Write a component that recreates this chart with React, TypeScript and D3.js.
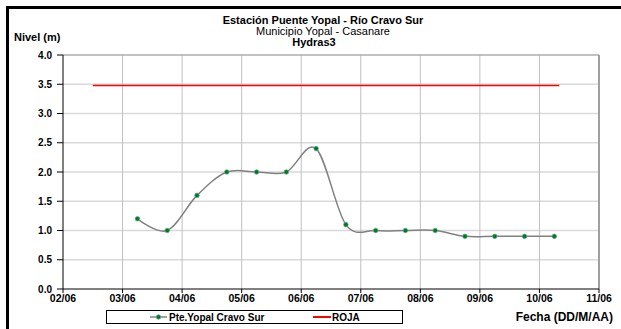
import React from 'react';
import { scaleUtc, scaleLinear, line, curveCatmullRom, utcFormat, utcDay } from 'd3';

// hydrometric readings every 12 h
const fechas = [
    '2011-06-03T06:00Z', '2011-06-03T18:00Z', '2011-06-04T06:00Z', '2011-06-04T18:00Z',
    '2011-06-05T06:00Z', '2011-06-05T18:00Z', '2011-06-06T06:00Z', '2011-06-06T18:00Z',
    '2011-06-07T06:00Z', '2011-06-07T18:00Z', '2011-06-08T06:00Z', '2011-06-08T18:00Z',
    '2011-06-09T06:00Z', '2011-06-09T18:00Z', '2011-06-10T06:00Z'
];
const niveles = [1.2, 1.0, 1.6, 2.0, 2.0, 2.0, 2.4, 1.1, 1.0, 1.0, 1.0, 0.9, 0.9, 0.9, 0.9];

// alert threshold
const rojaFechas = ['2011-06-02T12:00Z', '2011-06-10T08:00Z'];
const rojaNivel = 3.48;

const xDominio = ['2011-06-02T00:00Z', '2011-06-11T00:00Z'];
const yTicks = [0, 0.5, 1, 1.5, 2, 2.5, 3, 3.5, 4];

const FONT = '"Liberation Sans", Arial, sans-serif';

const App = () => {
    let margin = { top: 55, right: 22, bottom: 40, left: 63 };
    let width = 621;
    let height = 329;
    let plotRight = width - margin.right;
    let plotBottom = height - margin.bottom;

    let x = scaleUtc().domain(xDominio.map(d => new Date(d))).range([margin.left, plotRight]);
    let y = scaleLinear().domain([0, 4]).range([plotBottom, margin.top]);
    let dias = utcDay.range(new Date(xDominio[0]), new Date(new Date(xDominio[1]).getTime() + 1));
    let fmt = utcFormat('%d/%m');

    let puntos = fechas.map((f, i) => ({ t: new Date(f), v: niveles[i] }));
    let linefunc = line<{ t: Date, v: number }>().x(d => x(d.t)).y(d => y(d.v)).curve(curveCatmullRom.alpha(0));

    return (
        <div style={{ position: 'absolute', left: 0, top: 0 }}>
            <svg width={width} height={height} style={{ display: 'block', fontFamily: FONT }}>
                <rect x={0} y={0} width={width} height={height} fill="white" />
                <rect x={7.5} y={7.5} width={width + 20} height={height + 20} fill="none" stroke="black" strokeWidth={3} />

                <text x={323} y={24} textAnchor="middle" fontSize={11} fontWeight="bold">Estación Puente Yopal  - Río Cravo Sur</text>
                <text x={323} y={35} textAnchor="middle" fontSize={11}>Municipio Yopal - Casanare</text>
                <text x={314} y={46} textAnchor="middle" fontSize={11} fontWeight="bold">Hydras3</text>
                <text x={14} y={41} fontSize={11} fontWeight="bold">Nivel (m)</text>

                {/* grid */}
                {yTicks.slice(1).map((t, i) =>
                    <line key={'h' + i} x1={margin.left} x2={plotRight} y1={y(t)} y2={y(t)} stroke="#d9d9d9" strokeWidth={1.5} />
                )}
                {dias.slice(1, -1).map((d, i) =>
                    <line key={'v' + i} x1={x(d)} x2={x(d)} y1={margin.top} y2={plotBottom} stroke="#c0c0c0" strokeWidth={1} />
                )}
                <line x1={margin.left} x2={plotRight} y1={margin.top} y2={margin.top} stroke="#a0a0a0" strokeWidth={1} />
                <line x1={plotRight} x2={plotRight} y1={margin.top} y2={plotBottom} stroke="#a0a0a0" strokeWidth={2} />

                {/* axes */}
                <line x1={margin.left} x2={margin.left} y1={margin.top} y2={plotBottom} stroke="black" strokeWidth={1} />
                <line x1={margin.left} x2={plotRight} y1={plotBottom} y2={plotBottom} stroke="black" strokeWidth={1} />
                {yTicks.map((t, i) =>
                    <g key={'yt' + i} transform={`translate(${margin.left},${y(t)})`}>
                        <line x1={-6} x2={0} stroke="black" />
                        <text x={-11} dy="0.35em" textAnchor="end" fontSize={10} fontWeight="bold">{t.toFixed(1)}</text>
                    </g>
                )}
                {dias.map((d, i) =>
                    <g key={'xt' + i} transform={`translate(${x(d)},${plotBottom})`}>
                        <line y1={0} y2={4} stroke="black" />
                        <text y={13} textAnchor="middle" fontSize={10.5} fontWeight="bold">{fmt(d)}</text>
                    </g>
                )}

                {/* series */}
                <line x1={x(new Date(rojaFechas[0]))} x2={x(new Date(rojaFechas[1]))} y1={y(rojaNivel)} y2={y(rojaNivel)} stroke="#ff0000" strokeWidth={1.5} />
                <path d={linefunc(puntos) || ''} fill="none" stroke="#808080" strokeWidth={1.5} />
                {puntos.map((p, i) =>
                    <circle key={'p' + i} cx={x(p.t)} cy={y(p.v)} r={2.3} fill="#008000" stroke="#6a9fd0" strokeWidth={0.7} />
                )}

                {/* legend */}
                <rect x={106.5} y={310.5} width={296} height={13} fill="white" stroke="black" strokeWidth={1} />
                <line x1={150} x2={167} y1={317} y2={317} stroke="#808080" strokeWidth={1.5} />
                <circle cx={158.5} cy={317} r={2.3} fill="#008000" stroke="#6a9fd0" strokeWidth={0.7} />
                <text x={169} y={320.5} fontSize={10} fontWeight="bold">Pte.Yopal Cravo Sur</text>
                <line x1={313} x2={331} y1={317} y2={317} stroke="#ff0000" strokeWidth={2} />
                <text x={332} y={320.5} fontSize={10} fontWeight="bold">ROJA</text>

                <text x={613} y={321} textAnchor="end" fontSize={12} fontWeight="bold">Fecha (DD/M/AA)</text>
            </svg>
        </div>
    );
};

export default App;
